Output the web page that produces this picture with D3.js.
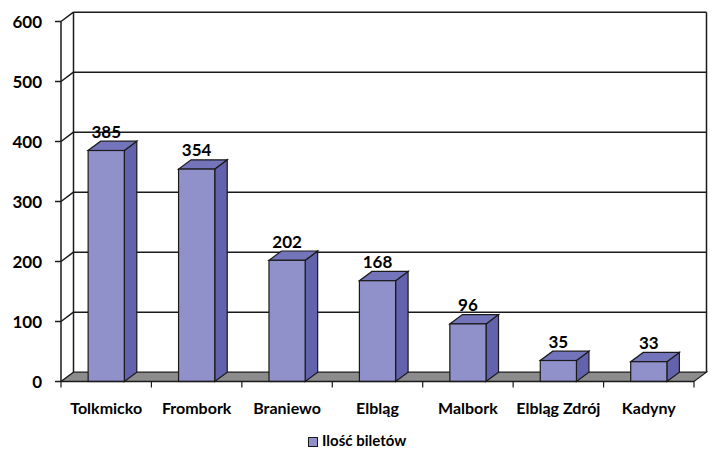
<!doctype html>
<html>
  <head>
    <meta charset="utf-8">
    <title>Ilość biletów</title>
    <script src="https://cdnjs.cloudflare.com/ajax/libs/d3/7.8.5/d3.min.js"></script>
    <style>
      body { margin: 0; background: #fff; }
      text { font-family: Lato, "Open Sans", sans-serif; font-weight: bold; fill: #000; }
    </style>
  </head>
  <body>
    <div id="chart"></div>
    <script>
      // data
      const stations = ['Tolkmicko', 'Frombork', 'Braniewo', 'Elbląg', 'Malbork', 'Elbląg Zdrój', 'Kadyny'];
      const tickets = [385, 354, 202, 168, 96, 35, 33];
      const yTicks = [0, 100, 200, 300, 400, 500, 600];
      const seriesName = 'Ilość biletów';

      const W = 717, H = 449;
      const dx = 12.5, dy = -9.3;   // depth offset of the 3d box
      const left = 61, right = 694;

      const svg = d3.select('#chart').append('svg')
        .attr('width', W).attr('height', H);

      const y = d3.scaleLinear().domain([0, 600]).range([381.5, 21.5]);
      const x = d3.scaleBand().domain(stations).range([left, right])
        .paddingInner(0.6).paddingOuter(0.3);
      const step = x.step();

      const lineCol = '#1a1a1a';

      // back wall grid lines
      svg.selectAll('.grid')
        .data(yTicks.slice(1))
        .join('line')
        .attr('x1', left + dx).attr('x2', right + dx)
        .attr('y1', d => y(d) + dy).attr('y2', d => y(d) + dy)
        .attr('stroke', lineCol).attr('stroke-width', 1.5);

      // left wall diagonals
      svg.selectAll('.diag')
        .data(yTicks.slice(1))
        .join('line')
        .attr('x1', left).attr('x2', left + dx)
        .attr('y1', d => y(d)).attr('y2', d => y(d) + dy)
        .attr('stroke', lineCol).attr('stroke-width', 1.5);

      // wall verticals
      [left + dx, right + dx].forEach(xx => {
        svg.append('line')
          .attr('x1', xx).attr('x2', xx)
          .attr('y1', y(600) + dy).attr('y2', y(0) + dy)
          .attr('stroke', lineCol).attr('stroke-width', 1.5);
      });

      // floor
      svg.append('polygon')
        .attr('points', [
          [left, y(0)], [right, y(0)], [right + dx, y(0) + dy], [left + dx, y(0) + dy]
        ].map(p => p.join(',')).join(' '))
        .attr('fill', '#8c8c8c').attr('stroke', lineCol).attr('stroke-width', 1.2);

      // bars
      const bars = svg.selectAll('.bar')
        .data(stations.map((s, i) => ({ s, v: tickets[i] })))
        .join('g');

      const pts = arr => arr.map(p => p.join(',')).join(' ');

      bars.append('polygon') // side
        .attr('points', d => {
          const x1 = x(d.s) + x.bandwidth();
          return pts([[x1, y(0)], [x1 + dx, y(0) + dy], [x1 + dx, y(d.v) + dy], [x1, y(d.v)]]);
        })
        .attr('fill', '#6262ad').attr('stroke', lineCol).attr('stroke-width', 1.2);

      bars.append('polygon') // top
        .attr('points', d => {
          const x0 = x(d.s), x1 = x0 + x.bandwidth();
          return pts([[x0, y(d.v)], [x1, y(d.v)], [x1 + dx, y(d.v) + dy], [x0 + dx, y(d.v) + dy]]);
        })
        .attr('fill', '#7474bb').attr('stroke', lineCol).attr('stroke-width', 1.2);

      bars.append('rect') // front
        .attr('x', d => x(d.s))
        .attr('y', d => y(d.v))
        .attr('width', x.bandwidth())
        .attr('height', d => y(0) - y(d.v))
        .attr('fill', '#9090cb').attr('stroke', lineCol).attr('stroke-width', 1.2);

      bars.append('text')
        .attr('x', d => x(d.s) + x.bandwidth() / 2)
        .attr('y', d => y(d.v) + dy - 3.5)
        .attr('text-anchor', 'middle')
        .style('font-size', '17px')
        .text(d => d.v);

      // y axis
      svg.append('line')
        .attr('x1', left).attr('x2', left)
        .attr('y1', y(600)).attr('y2', y(0))
        .attr('stroke', lineCol).attr('stroke-width', 1.5);
      svg.selectAll('.ytick')
        .data(yTicks)
        .join('line')
        .attr('x1', left - 6).attr('x2', left)
        .attr('y1', d => y(d)).attr('y2', d => y(d))
        .attr('stroke', lineCol).attr('stroke-width', 1.5);
      svg.selectAll('.ylab')
        .data(yTicks)
        .join('text')
        .attr('x', 42).attr('y', d => y(d) + 6)
        .attr('text-anchor', 'end')
        .style('font-size', '17px')
        .text(d => d);

      // x axis
      svg.append('line')
        .attr('x1', left).attr('x2', right)
        .attr('y1', y(0)).attr('y2', y(0))
        .attr('stroke', lineCol).attr('stroke-width', 1.5);
      svg.selectAll('.xtick')
        .data(d3.range(stations.length + 1))
        .join('line')
        .attr('x1', i => left + i * step).attr('x2', i => left + i * step)
        .attr('y1', y(0)).attr('y2', y(0) + 6)
        .attr('stroke', lineCol).attr('stroke-width', 1.2);
      svg.selectAll('.xlab')
        .data(stations)
        .join('text')
        .attr('x', d => x(d) - step * 0.3 + step / 2)
        .attr('y', 414)
        .attr('text-anchor', 'middle')
        .style('font-size', '16px')
        .text(d => d);

      // legend
      svg.append('rect')
        .attr('x', 308.5).attr('y', 437.5).attr('width', 9).attr('height', 9)
        .attr('fill', '#9090cb').attr('stroke', lineCol).attr('stroke-width', 1);
      svg.append('text')
        .attr('x', 322).attr('y', 446)
        .style('font-size', '15px')
        .text(seriesName);
    </script>
  </body>
</html>
